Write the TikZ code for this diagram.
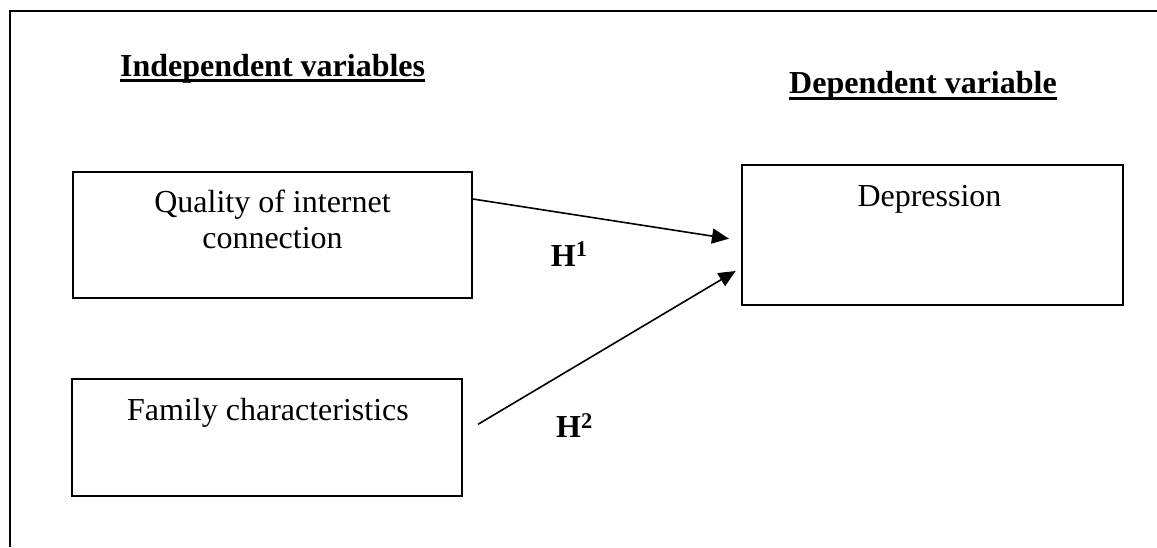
\documentclass[tikz,border=0pt]{standalone}
\usepackage{fontspec}
\setmainfont{Liberation Serif}
\usetikzlibrary{arrows.meta}
\begin{document}
\begin{tikzpicture}[x=1pt,y=-1pt,
  font=\fontsize{32}{36}\selectfont,
  varbox/.style={draw, line width=1.8pt, inner sep=0pt},
  lbl/.style={inner sep=0pt},
  ttl/.style={inner sep=0pt, font=\fontsize{32}{36}\selectfont\bfseries},
  ulin/.style={line width=3pt},
  conn/.style={line width=1.6pt, -{Triangle[length=17pt,width=15pt]}}]
\useasboundingbox (0,0) rectangle (1157,547);
% outer frame (top and left sides visible)
\coordinate (fr) at (1157,11);
\coordinate (fc) at (10,11);
\coordinate (fb) at (10,547);
\draw[line width=1.8pt] (fr) -- (fc) -- (fb);
% titles
\node[ttl, anchor=base west] (t1) at (120,76) {Independent variables};
\node[ttl, anchor=base west] (t2) at (789,93) {Dependent variable};
\draw[ulin] ([yshift=-4pt]t1.base west) -- ([yshift=-4pt]t1.base east);
\draw[ulin] ([yshift=-5pt]t2.base west) -- ([yshift=-5pt]t2.base east);
% boxes
\node[varbox, minimum width=399pt, minimum height=126pt] (b1) at (272.5,235) {};
\node[varbox, minimum width=390pt, minimum height=117pt] (b2) at (267,437.5) {};
\node[varbox, minimum width=381pt, minimum height=140pt] (b3) at (932.5,235) {};
% box texts
\node[lbl, anchor=base] (q1) at (272.5,212.7) {Quality of internet};
\node[lbl, anchor=base] (q2) at (272.5,248.3) {connection};
\node[lbl, anchor=base] (f1) at (268,420.3) {Family characteristics};
\node[lbl, anchor=base] (d1) at (929.5,206.7) {Depression};
% hypothesis labels
\node[lbl, anchor=base west] (h1) at (550.7,266) {\textbf{H\textsuperscript{1}}};
\node[lbl, anchor=base west] (h2) at (556,437.7) {\textbf{H\textsuperscript{2}}};
% connectors
\coordinate (e1) at (729,238.7);
\coordinate (s2) at (478,424.3);
\coordinate (e2) at (735.7,271);
\draw[conn] ([yshift=36pt]b1.east) -- (e1);
\draw[conn] (s2) -- (e2);
\end{tikzpicture}
\end{document}
